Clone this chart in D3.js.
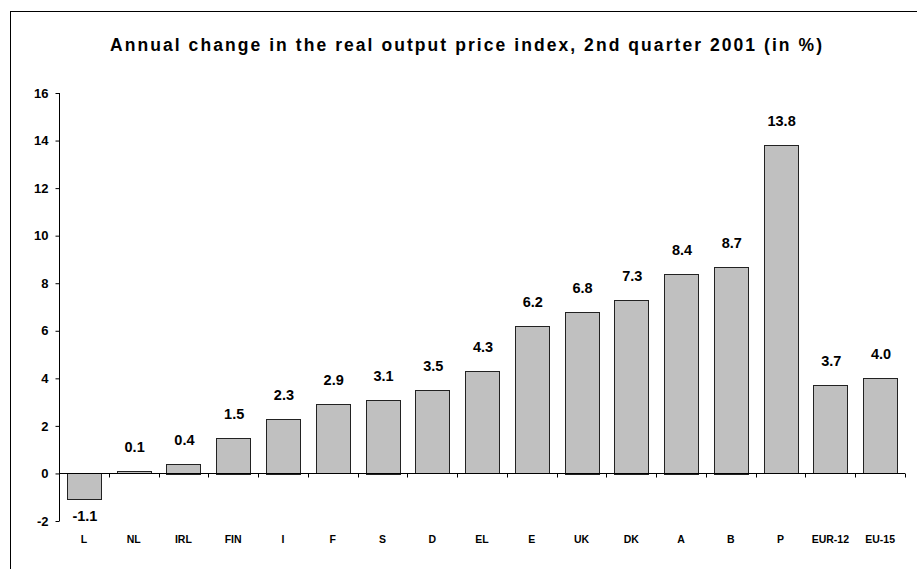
<!DOCTYPE html>
<html>
<head>
<meta charset="utf-8">
<script src="https://cdn.jsdelivr.net/npm/d3@7"></script>
<style>
  body { margin: 0; background: #fff; }
  svg { display: block; font-family: "Liberation Sans", Arial, sans-serif; }
</style>
</head>
<body>
<svg width="917" height="569"></svg>
<script>
// data
const countries = ["L", "NL", "IRL", "FIN", "I", "F", "S", "D", "EL", "E", "UK", "DK", "A", "B", "P", "EUR-12", "EU-15"];
const changes = [-1.1, 0.1, 0.4, 1.5, 2.3, 2.9, 3.1, 3.5, 4.3, 6.2, 6.8, 7.3, 8.4, 8.7, 13.8, 3.7, 4.0];
const yTicks = [-2, 0, 2, 4, 6, 8, 10, 12, 14, 16];

const svg = d3.select("svg");
const width = +svg.attr("width");
const height = +svg.attr("height");

const data = countries.map((c, i) => ({ name: c, value: changes[i] }));

// plain hyphen for negatives, like the original
const fmtInt = d => String(d);
const fmt = d => d.toFixed(1);

// outer frame (right and bottom edges fall outside the picture)
svg.append("rect")
    .attr("x", 10.5).attr("y", 11.5)
    .attr("width", width + 10).attr("height", height + 10)
    .attr("fill", "none").attr("stroke", "#000").attr("stroke-width", 1);

// title
svg.append("text")
    .attr("x", 466).attr("y", 51)
    .attr("text-anchor", "middle")
    .attr("font-size", 17.5).attr("font-weight", "bold")
    .attr("textLength", 712).attr("lengthAdjust", "spacing")
    .text("Annual change in the real output price index, 2nd quarter 2001 (in %)");

const x = d3.scaleBand()
    .domain(countries)
    .range([59, 905])
    .paddingInner(0.32)
    .paddingOuter(0.16);

const y = d3.scaleLinear()
    .domain([-2, 16])
    .range([521, 93]);

// y axis
const yAxis = svg.append("g")
    .attr("transform", "translate(59.5,0)")
    .call(d3.axisLeft(y).tickValues(yTicks).tickSize(4).tickPadding(7).tickFormat(fmtInt));
yAxis.select(".domain").attr("d", `M0,${y(-2)}V${y(16)}`);
yAxis.selectAll("line").attr("stroke", "#000");
yAxis.selectAll("text")
    .attr("font-size", 13).attr("font-weight", "bold")
    .attr("font-family", "Liberation Sans, Arial, sans-serif").attr("fill", "#000");

// bars
svg.append("g")
    .selectAll("rect")
    .data(data)
    .join("rect")
    .attr("x", d => Math.round(x(d.name)) + 0.5)
    .attr("y", d => Math.round(y(Math.max(0, d.value))) + 0.5)
    .attr("width", Math.round(x.bandwidth()))
    .attr("height", d => Math.max(1, Math.round(Math.abs(y(d.value) - y(0)))))
    .attr("fill", "#c0c0c0")
    .attr("stroke", "#222")
    .attr("stroke-width", 1);

// x axis along zero with ticks at category boundaries
const zeroY = Math.round(y(0)) + 0.5;
const xg = svg.append("g");
xg.append("line")
    .attr("x1", 59).attr("x2", 905)
    .attr("y1", zeroY).attr("y2", zeroY)
    .attr("stroke", "#000");
xg.selectAll("line.tick")
    .data(countries)
    .join("line")
    .attr("class", "tick")
    .attr("x1", d => Math.round(x(d) + x.bandwidth() + x.step() * x.paddingInner() / 2) + 0.5)
    .attr("x2", d => Math.round(x(d) + x.bandwidth() + x.step() * x.paddingInner() / 2) + 0.5)
    .attr("y1", zeroY).attr("y2", zeroY + 4)
    .attr("stroke", "#000");

// category labels
svg.append("g")
    .selectAll("text")
    .data(countries)
    .join("text")
    .attr("x", d => x(d) + x.bandwidth() / 2)
    .attr("y", 543)
    .attr("text-anchor", "middle")
    .attr("font-size", 10.5).attr("font-weight", "bold")
    .text(d => d);

// value labels
svg.append("g")
    .selectAll("text")
    .data(data)
    .join("text")
    .attr("x", d => x(d.name) + x.bandwidth() / 2 + 1)
    .attr("y", d => d.value >= 0 ? y(d.value) - 19 : y(d.value) + 21)
    .attr("text-anchor", "middle")
    .attr("font-size", 14.5).attr("font-weight", "bold")
    .text(d => fmt(d.value));
</script>
</body>
</html>
